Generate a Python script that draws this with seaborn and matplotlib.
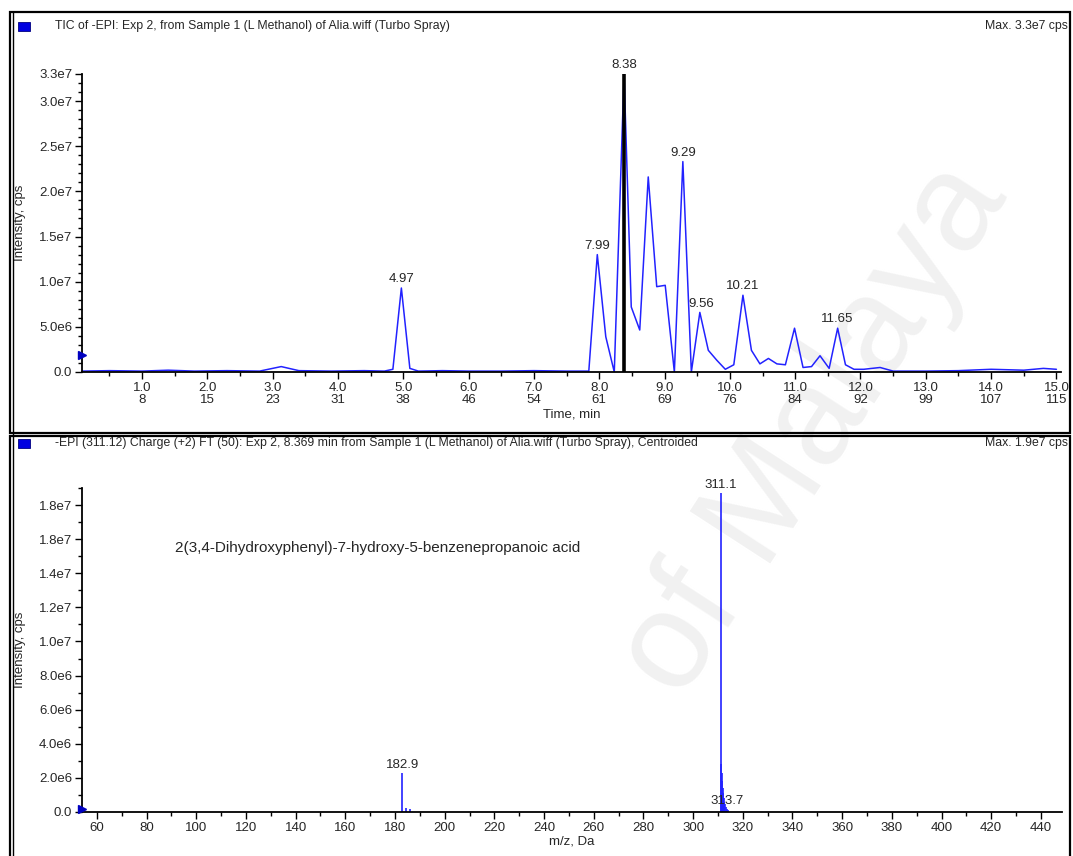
import seaborn as sns
import matplotlib.pyplot as plt
from matplotlib.ticker import MultipleLocator, FixedLocator
from matplotlib.patches import Rectangle
from matplotlib.lines import Line2D

# ---- TIC chromatogram (time in min, intensity in cps) ----
tic_time = [0.08, 0.5, 1.0, 1.4, 1.8, 2.3, 2.8, 3.13, 3.4, 3.9, 4.4, 4.71, 4.84,
            4.97, 5.10, 5.23, 5.6, 6.0, 6.5, 7.0, 7.5, 7.84, 7.97, 8.10, 8.23,
            8.38, 8.49, 8.62, 8.75, 8.88, 9.01, 9.15, 9.28, 9.41, 9.54, 9.67,
            9.80, 9.93, 10.06, 10.20, 10.33, 10.46, 10.59, 10.72, 10.85, 10.99,
            11.12, 11.25, 11.38, 11.52, 11.65, 11.77, 11.90, 12.05, 12.3, 12.5,
            13.0, 13.5, 14.0, 14.5, 14.8, 15.0]
tic_int = [0.1e6, 0.15e6, 0.1e6, 0.2e6, 0.1e6, 0.15e6, 0.1e6, 0.6e6, 0.15e6,
           0.1e6, 0.15e6, 0.1e6, 0.3e6, 9.3e6, 0.4e6, 0.1e6, 0.15e6, 0.1e6,
           0.1e6, 0.15e6, 0.1e6, 0.1e6, 13.0e6, 3.9e6, 0.0, 33.0e6, 7.2e6,
           4.65e6, 21.6e6, 9.45e6, 9.6e6, 0.0, 23.3e6, 0.0, 6.6e6, 2.4e6, 1.3e6,
           0.3e6, 0.8e6, 8.5e6, 2.4e6, 0.9e6, 1.5e6, 0.9e6, 0.8e6, 4.85e6, 0.5e6,
           0.6e6, 1.8e6, 0.4e6, 4.85e6, 0.8e6, 0.3e6, 0.3e6, 0.5e6, 0.1e6, 0.1e6,
           0.15e6, 0.3e6, 0.2e6, 0.4e6, 0.3e6]
tic_peak_labels = ["4.97", "7.99", "8.38", "9.29", "9.56", "10.21", "11.65"]
tic_peak_time = [4.97, 7.97, 8.38, 9.28, 9.56, 10.20, 11.65]
tic_peak_int = [9.3e6, 13.0e6, 33.0e6, 23.3e6, 6.6e6, 8.5e6, 4.85e6]
selected_time = 8.38
time_ticks = [1.0, 2.0, 3.0, 4.0, 5.0, 6.0, 7.0, 8.0, 9.0, 10.0, 11.0, 12.0,
              13.0, 14.0, 15.0]
scan_ticks = [8, 15, 23, 31, 38, 46, 54, 61, 69, 76, 84, 92, 99, 107, 115]
tic_yticks = [0, 5e6, 1e7, 1.5e7, 2e7, 2.5e7, 3e7, 3.3e7]
tic_ylabels = ["0.0", "5.0e6", "1.0e7", "1.5e7", "2.0e7", "2.5e7", "3.0e7", "3.3e7"]

# ---- EPI spectrum (m/z, intensity in cps) ----
mz = [182.9, 184.5, 185.9, 311.1, 311.3, 311.5, 311.7, 311.9, 312.1, 312.3,
      312.6, 312.9, 313.2, 313.7, 314.2]
mz_int = [2.3e6, 0.25e6, 0.15e6, 18.7e6, 2.8e6, 2.3e6, 1.8e6, 1.4e6, 1.1e6,
          0.8e6, 0.6e6, 0.45e6, 0.3e6, 0.2e6, 0.1e6]
mz_peak_labels = ["182.9", "311.1", "313.7"]
mz_peak_pos = [182.9, 311.1, 313.7]
mz_peak_int = [2.3e6, 18.7e6, 0.2e6]
mz_ticks = [60, 80, 100, 120, 140, 160, 180, 200, 220, 240, 260, 280, 300,
            320, 340, 360, 380, 400, 420, 440]
ms_yticks = [0, 2e6, 4e6, 6e6, 8e6, 1e7, 1.2e7, 1.4e7, 1.6e7, 1.8e7]
ms_ylabels = ["0.0", "2.0e6", "4.0e6", "6.0e6", "8.0e6", "1.0e7", "1.2e7",
              "1.4e7", "1.8e7", "1.8e7"]
compound = "2(3,4-Dihydroxyphenyl)-7-hydroxy-5-benzenepropanoic acid"

sns.set_style("white")
plt.rcParams['font.family'] = ['Liberation Sans Narrow', 'Liberation Sans', 'DejaVu Sans']

W, H = 1073, 856
fig = plt.figure(figsize=(W / 100, H / 100), dpi=100)


def fx(px):
    return px / W


def fy(py):
    return 1 - py / H


blue = '#2222ff'
fs = 9.5

# watermark
fig.text(fx(815), fy(430), "of Malaya", fontsize=100, rotation=57, color='#f1f1f1',
         ha='center', va='center', zorder=-5, family='Liberation Sans')

# panel frames
for y0, y1 in [(12, 433), (436, 870)]:
    fig.add_artist(Rectangle((fx(10), fy(y1)), fx(1070) - fx(10), fy(y0) - fy(y1),
                             transform=fig.transFigure, fill=False, lw=1.6,
                             edgecolor='black', zorder=-1))
fig.add_artist(Line2D([fx(13), fx(13)], [fy(12), fy(856)], transform=fig.transFigure,
                      color='black', lw=1))

# headers
headers = [
    (26, "TIC of -EPI: Exp 2, from Sample 1 (L Methanol) of Alia.wiff (Turbo Spray)",
     "Max. 3.3e7 cps"),
    (443, "-EPI (311.12) Charge (+2) FT (50): Exp 2, 8.369 min from Sample 1 (L Methanol) "
          "of Alia.wiff (Turbo Spray), Centroided", "Max. 1.9e7 cps"),
]
for y, left, right in headers:
    fig.add_artist(Rectangle((fx(18), fy(y + 5)), fx(12), 9 / H,
                             transform=fig.transFigure, facecolor='#0000e0',
                             edgecolor='#000080', lw=0.6))
    fig.text(fx(55), fy(y), left, fontsize=8.8, ha='left', va='center')
    fig.text(fx(1068), fy(y), right, fontsize=8.8, ha='right', va='center')

# ---- top: TIC ----
ax1 = fig.add_axes([fx(82), fy(372), fx(1061) - fx(82), fy(74) - fy(372)])
ax1.patch.set_alpha(0)
sns.lineplot(x=tic_time, y=tic_int, ax=ax1, color=blue, lw=1.1,
             estimator=None, sort=False)
ax1.vlines(selected_time, 0, max(tic_int), color='black', lw=2.6, zorder=3)
for lab, t, v in zip(tic_peak_labels, tic_peak_time, tic_peak_int):
    ax1.annotate(lab, (t, v), xytext=(0, 2), textcoords='offset points',
                 ha='center', va='bottom', fontsize=fs, annotation_clip=False)
ax1.set_xlim(0.08, 15.07)
ax1.set_ylim(0, 3.3e7)
ax1.xaxis.set_major_locator(FixedLocator(time_ticks))
ax1.set_xticklabels([f"{t:.1f}\n{s}" for t, s in zip(time_ticks, scan_ticks)],
                    linespacing=1.0)
ax1.xaxis.set_minor_locator(MultipleLocator(0.5))
ax1.yaxis.set_major_locator(FixedLocator(tic_yticks))
ax1.set_yticklabels(tic_ylabels)
ax1.yaxis.set_minor_locator(MultipleLocator(1e6))
ax1.set_xlabel("Time, min", fontsize=fs, labelpad=2)
ax1.set_ylabel("Intensity, cps", fontsize=fs)
ax1.yaxis.set_label_coords(-0.057, 0.5)
ax1.plot([0.08], [1.9e6], marker='>', color='#0000c0', ms=6, clip_on=False, zorder=4)

# ---- bottom: spectrum ----
ax2 = fig.add_axes([fx(82), fy(812), fx(1062) - fx(82), fy(488) - fy(812)])
ax2.patch.set_alpha(0)
ax2.vlines(mz, 0, mz_int, color=blue, lw=1.2)
for lab, m, v in zip(mz_peak_labels, mz_peak_pos, mz_peak_int):
    ax2.annotate(lab, (m, v), xytext=(0, 1.5), textcoords='offset points',
                 ha='center', va='bottom', fontsize=fs)
ax2.text(91.5, 15.5e6, compound, fontsize=11, ha='left', va='center')
ax2.set_xlim(54, 448.5)
ax2.set_ylim(0, 1.9e7)
ax2.xaxis.set_major_locator(FixedLocator(mz_ticks))
ax2.set_xticklabels([str(m) for m in mz_ticks])
ax2.xaxis.set_minor_locator(MultipleLocator(10))
ax2.yaxis.set_major_locator(FixedLocator(ms_yticks))
ax2.set_yticklabels(ms_ylabels)
ax2.yaxis.set_minor_locator(MultipleLocator(1e6))
ax2.set_xlabel("m/z, Da", fontsize=fs, labelpad=1)
ax2.set_ylabel("Intensity, cps", fontsize=fs)
ax2.yaxis.set_label_coords(-0.057, 0.5)
ax2.plot([54], [0.2e6], marker='>', color='#0000c0', ms=6, clip_on=False, zorder=4)

for ax in (ax1, ax2):
    sns.despine(ax=ax)
    for s in ('left', 'bottom'):
        ax.spines[s].set_linewidth(1.3)
        ax.spines[s].set_color('black')
    ax.tick_params(which='major', direction='out', length=5, width=1,
                   labelsize=fs, pad=2, color='black')
    ax.tick_params(which='minor', direction='out', length=3, width=1, color='black')
    ax.tick_params(axis='both', which='both', bottom=True, left=True)

fig.savefig("out.png", dpi=100)
